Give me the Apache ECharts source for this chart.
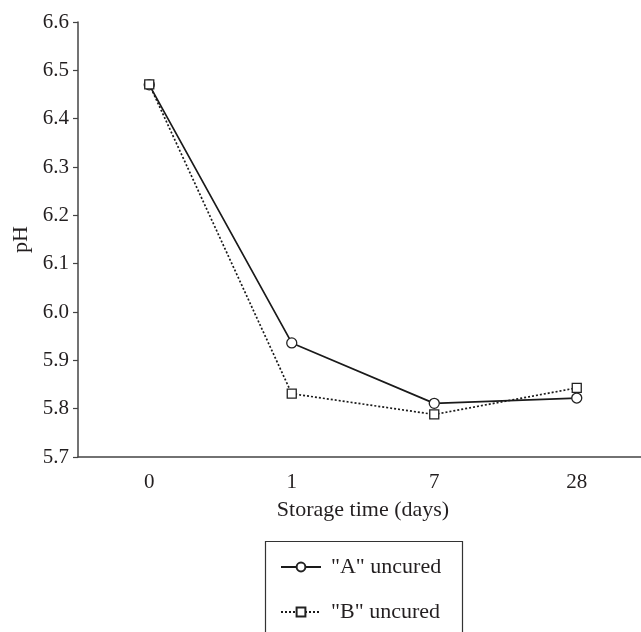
<!DOCTYPE html>
<html>
<head>
<meta charset="utf-8">
<script src="https://cdn.jsdelivr.net/npm/echarts@6/dist/echarts.min.js"></script>
<style>html,body{margin:0;padding:0;background:#fff}#c{width:641px;height:632px}</style>
</head>
<body>
<div id="c"></div>
<script>
const categories = ['0', '1', '7', '28'];
const seriesAName = '"A" uncured';
const seriesBName = '"B" uncured';
const seriesA = [6.47, 5.936, 5.811, 5.822];
const seriesB = [6.471, 5.831, 5.788, 5.843];
const yTicksMin = 5.7, yTicksMax = 6.6, yTickStep = 0.1;

const ink = '#231f20';
const font = 'Liberation Serif';
const legendCommon = {
  orient: 'horizontal',
  left: 280,
  padding: 0,
  itemWidth: 40, itemHeight: 11,
  textStyle: { color: ink, fontFamily: font, fontSize: 22, padding: [0, 0, 0, 5] }
};
const chart = echarts.init(document.getElementById('c'));
chart.setOption({
  animation: false,
  backgroundColor: '#fff',
  grid: { left: 78, top: 22, height: 435, width: 570, containLabel: false, outerBoundsMode: 'none' },
  xAxis: {
    type: 'category',
    data: categories,
    boundaryGap: true,
    name: 'Storage time (days)',
    nameLocation: 'middle',
    nameGap: 42,
    nameTextStyle: { color: ink, fontFamily: font, fontSize: 22 },
    axisLine: { lineStyle: { color: '#444', width: 1.5 } },
    axisTick: { alignWithLabel: true, length: 5, lineStyle: { color: '#444', width: 1.2 } },
    axisLabel: { color: ink, fontFamily: font, fontSize: 21, margin: 15 },
    splitLine: { show: false }
  },
  yAxis: {
    type: 'value',
    min: yTicksMin, max: yTicksMax, interval: yTickStep,
    name: 'pH',
    nameLocation: 'middle',
    nameGap: 36,
    nameTextStyle: { color: ink, fontFamily: font, fontSize: 22 },
    axisLine: { show: true, lineStyle: { color: '#444', width: 1.5 } },
    axisTick: { show: true, length: 5, lineStyle: { color: '#444', width: 1.2 } },
    axisLabel: { color: ink, fontFamily: font, fontSize: 21, margin: 9,
      formatter: v => v.toFixed(1) },
    splitLine: { show: false }
  },
  legend: [
    Object.assign({}, legendCommon, { top: 556, data: [seriesAName] }),
    Object.assign({}, legendCommon, { top: 601, data: [seriesBName] })
  ],
  graphic: [{
    type: 'rect', left: 263, top: 539,
    shape: { width: 197, height: 110 },
    style: { fill: 'none', stroke: '#333', lineWidth: 1.2 },
    silent: true
  }],
  series: [
    {
      name: seriesAName, type: 'line', data: seriesA,
      symbol: 'circle', symbolSize: 10,
      lineStyle: { color: '#1a1a1a', width: 1.7, type: 'solid' },
      itemStyle: { color: '#fff', borderColor: '#222', borderWidth: 1.3 },
      z: 2
    },
    {
      name: seriesBName, type: 'line', data: seriesB,
      symbol: 'rect', symbolSize: 9,
      lineStyle: { color: '#1a1a1a', width: 1.7, type: [2, 2] },
      itemStyle: { color: '#fff', borderColor: '#222', borderWidth: 1.3 },
      z: 3
    }
  ]
});
</script>
</body>
</html>
